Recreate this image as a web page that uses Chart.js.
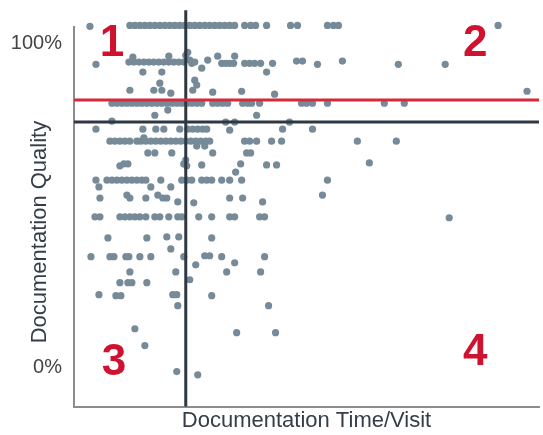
<!DOCTYPE html>
<html lang="en">
<head>
<meta charset="UTF-8">
<title>Documentation Quality vs Time/Visit</title>
<script src="https://cdn.jsdelivr.net/npm/chart.js"></script>
<style>
    body { margin: 0; background: #fff; }
    #wrap { width: 543px; height: 435px; }
</style>
</head>
<body>
<div id="wrap"><canvas id="chart"></canvas></div>
<script>
// [time per visit, quality %] grouped by quality band
const bandTop = [
    [1.6,105.2],[5.6,105.5],[6.1,105.5],[6.6,105.5],[7.1,105.5],[7.6,105.5],[8.1,105.5],[8.6,105.5],
    [9.1,105.5],[9.6,105.5],[10.1,105.5],[10.6,105.5],[11.1,105.5],[11.6,105.5],[12.1,105.5],[12.6,105.5],
    [13.1,105.5],[13.6,105.5],[14.1,105.5],[14.6,105.5],[15.1,105.5],[15.6,105.5],[16.1,105.5],[17.1,105.5],
    [17.7,105.5],[18.2,105.5],[19.3,105.5],[21.7,105.5],[22.4,105.5],[25.4,105.5],[26.0,105.5],[26.5,105.5],
    [42.5,105.5]
];
const bandHigh = [
    [2.2,93.5],[5.5,94.2],[6.0,94.2],[6.5,94.2],[7.0,94.2],[7.5,94.2],[8.0,94.2],[8.5,94.2],[9.0,94.2],
    [9.5,94.2],[10.0,94.2],[10.5,94.2],[11.0,94.2],[5.9,95.7],[9.5,96.0],[6.9,91.1],[8.8,91.1],
    [11.2,96.3],[11.4,97.2],[11.6,94.8],[11.8,93.8],[12.1,94.2],[12.8,92.3],[13.4,94.8],[14.4,96.0],
    [14.8,93.8],[15.2,93.8],[15.6,93.8],[16.0,93.8],[16.1,96.0],[17.1,93.8],[17.6,93.8],[18.1,93.8],
    [18.7,93.8],[19.3,91.1],[19.9,93.8],[22.3,94.5],[22.9,94.5],[24.4,93.5],[26.9,94.5],[32.5,93.5],
    [37.2,93.5],
    [8.6,87.7],[12.1,88.6],[12.3,87.1],[5.6,85.5],[8.0,85.5],[8.8,85.5],[9.7,84.6],[11.9,85.5],
    [13.9,84.9],[16.8,85.2],[20.1,84.3],[45.4,85.2]
];
const bandTarget = [
    [3.8,81.5],[4.3,81.5],[4.8,81.5],[5.3,81.5],[5.8,81.5],[6.3,81.5],[6.8,81.5],[7.3,81.5],[7.8,81.5],
    [8.3,81.5],[8.8,81.5],[9.3,81.5],[9.8,81.5],[10.3,81.5],[10.8,81.5],[11.3,81.5],[11.8,81.5],
    [12.3,81.5],[12.8,81.5],[13.9,81.5],[14.4,81.5],[14.9,81.5],[15.4,81.5],[16.9,81.5],[17.4,81.5],
    [17.8,81.5],[18.6,81.5],[22.8,81.5],[23.3,81.5],[23.9,81.5],[25.4,81.5],[31.1,81.5],[33.1,81.5],
    [9.4,79.4],[8.1,77.8],[18.3,77.8],
    [3.8,76.0],[15.2,75.7],[16.1,75.7],[21.6,75.7],
    [2.2,73.5],[6.9,73.5],[8.2,73.5],[9.0,73.5],[10.6,73.5],[11.4,73.5],[11.9,73.5],[12.4,73.5],
    [12.9,73.5],[13.3,73.5],[15.6,73.2],[20.9,73.5],[23.9,73.5]
];
const bandMid = [
    [3.6,69.8],[4.1,69.8],[4.6,69.8],[5.1,69.8],[5.6,69.8],[6.3,69.8],[6.7,69.8],[7.2,69.8],[7.7,69.8],
    [8.2,69.8],[8.7,69.8],[9.2,69.8],[9.7,69.8],[10.2,69.8],[10.7,69.8],[11.2,69.8],[11.7,69.8],
    [12.2,69.8],[12.7,69.8],[13.2,69.8],[13.6,69.8],[7.0,70.8],[12.3,68.3],[13.1,68.3],[13.9,66.2],
    [17.1,69.8],[17.6,69.8],[18.3,69.8],[19.8,69.8],[20.8,69.8],[28.4,69.8],[32.3,69.8],
    [7.4,66.2],[8.1,66.2],[9.8,66.2],[17.3,66.2],[17.7,66.2],
    [4.6,62.2],[5.0,62.8],[5.4,62.8],[11.0,62.8],[11.3,62.2],[11.2,64.0],[12.8,62.5],[16.2,60.3],
    [16.7,62.8],[19.3,62.5],[20.3,62.5],[29.6,63.1],
    [2.2,57.8],[3.3,57.8],[3.8,57.8],[4.3,57.8],[4.8,57.8],[5.3,57.8],[5.8,57.8],[6.3,57.8],[6.8,57.8],
    [7.2,57.8],[8.7,57.8],[10.8,57.8],[11.3,57.8],[11.8,57.8],[12.8,57.8],[13.3,57.8],[13.8,57.8],
    [14.8,57.8],[15.6,57.8],[16.8,57.8],[25.4,57.8],[2.5,55.7],[7.7,55.7],[9.7,55.7],
    [2.6,52.3],[5.3,53.2],[5.6,52.3],[7.2,52.3],[8.4,53.2],[8.9,52.3],[9.3,52.3],[10.4,51.1],
    [12.0,50.8],[15.6,52.3],[16.9,52.3],[18.9,51.1],[24.9,53.2]
];
const bandLow = [
    [2.1,46.5],[2.6,46.5],[4.6,46.5],[5.1,46.5],[5.6,46.5],[6.1,46.5],[6.6,46.5],[7.2,46.5],[8.1,46.5],
    [8.6,46.5],[9.5,46.5],[10.4,46.5],[10.8,46.5],[12.5,46.5],[13.8,46.5],[15.6,46.5],[16.1,46.5],
    [18.6,46.5],[19.1,46.5],[37.6,46.2],
    [3.4,40.0],[7.3,40.0],[9.3,40.3],[10.5,40.3],[13.8,40.0],[9.7,36.6],
    [1.7,34.2],[3.6,34.2],[4.0,34.2],[5.2,34.2],[5.5,34.2],[6.6,34.2],[7.7,34.2],[11.0,34.2],
    [13.1,34.5],[13.6,34.5],[14.8,34.2],[19.1,34.2],[12.2,31.7],[16.1,32.3],[15.3,29.5],[18.7,29.5],
    [11.6,27.1],[5.6,29.5],[10.2,29.5],
    [4.6,26.2],[5.4,26.2],[5.8,26.2],[7.3,26.2],
    [2.5,22.5],[4.2,22.2],[4.7,22.2],[9.9,22.5],[10.3,22.5],[13.8,22.2],
    [10.4,19.1],[19.5,19.1],[6.1,12.0],[16.3,10.8],[20.2,10.8],[7.1,6.8],[10.3,-1.2],[12.4,-2.2]
];

const targetQuality = 82.5;   // red line
const avgQuality = 75.7;      // black horizontal
const avgTime = 11.2;         // black vertical
const xMax = 46.6;
const yMin = -12;
const yMax = 105;
const yTickVals = [0, 100];

const quadrantNames = ['1', '2', '3', '4'];
const quadrantX = [3.8, 40.2, 4.0, 40.2];
const quadrantY = [99.7, 99.7, 1.6, 4.5];

const allPoints = [].concat(bandTop, bandHigh, bandTarget, bandMid, bandLow);

Chart.defaults.font.family = '"Liberation Sans", Arial, sans-serif';

const quadrantLabels = {
    id: 'quadrantLabels',
    afterDatasetsDraw(chart) {
        const {ctx, scales: {x, y}} = chart;
        ctx.save();
        ctx.fillStyle = '#cf1230';
        ctx.font = 'bold 44px "Liberation Sans", Arial, sans-serif';
        ctx.textAlign = 'center';
        ctx.textBaseline = 'middle';
        quadrantNames.forEach((n, i) => {
            ctx.fillText(n, x.getPixelForValue(quadrantX[i]), y.getPixelForValue(quadrantY[i]));
        });
        ctx.restore();
    }
};

new Chart(document.getElementById('chart'), {
    type: 'scatter',
    data: {
        datasets: [
            {
                data: [{x: 0, y: targetQuality}, {x: xMax, y: targetQuality}],
                showLine: true, borderColor: '#d6293b', borderWidth: 3, pointRadius: 0, order: 1
            },
            {
                data: [{x: 0, y: avgQuality}, {x: xMax, y: avgQuality}],
                showLine: true, borderColor: '#2d3843', borderWidth: 3, pointRadius: 0, order: 1
            },
            {
                data: [{x: avgTime, y: yMin}, {x: avgTime, y: 110.2}],
                showLine: true, borderColor: '#2d3843', borderWidth: 3, pointRadius: 0, order: 1, clip: false
            },
            {
                data: allPoints.map(p => ({x: p[0], y: p[1]})),
                backgroundColor: '#768a98', borderWidth: 0, pointRadius: 3.6, order: 2, clip: false
            }
        ]
    },
    options: {
        responsive: true,
        maintainAspectRatio: false,
        animation: false,
        layout: { padding: { top: 27, right: 3, left: 0, bottom: 0 } },
        plugins: { legend: { display: false }, tooltip: { enabled: false } },
        scales: {
            x: {
                min: 0, max: xMax,
                ticks: { display: false },
                grid: { display: false, drawTicks: false },
                border: { color: '#8c8c8c', width: 2 },
                title: {
                    display: true, text: 'Documentation Time/Visit',
                    color: '#333e48', font: { size: 22 }, padding: { top: 1, bottom: 1 }
                }
            },
            y: {
                min: yMin, max: yMax,
                afterBuildTicks: s => { s.ticks = yTickVals.map(v => ({value: v})); },
                afterFit: s => { s.width = 74; },
                ticks: { callback: v => v + '%', color: '#444', font: { size: 20 }, padding: 12 },
                grid: { display: false, drawTicks: false },
                border: { color: '#8c8c8c', width: 2 },
                title: {
                    display: true,
                    // trailing spaces nudge the label down a little, as in the original
                    text: 'Documentation Quality\u00a0\u00a0\u00a0\u00a0\u00a0',
                    color: '#333e48', font: { size: 22 }, padding: { top: 27, bottom: 0 }
                }
            }
        }
    },
    plugins: [quadrantLabels]
});
</script>
</body>
</html>
